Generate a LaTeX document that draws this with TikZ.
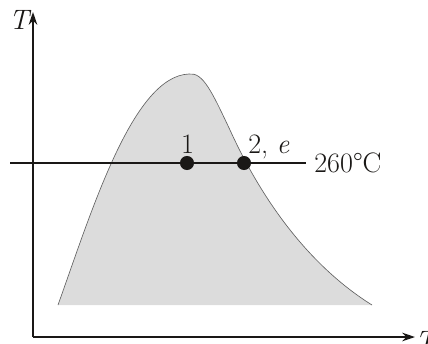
\documentclass[tikz,border=0pt]{standalone}
\usepackage{fontspec}
\usepackage{tikz}
\usetikzlibrary{
  arrows.meta,
  positioning,
}
\definecolor{tsInk}  {RGB}{ 26,  24,  22}
\definecolor{tsShade}{RGB}{220, 220, 220}
\definecolor{tsEdge} {RGB}{ 95,  95,  95}

\begin{document}
\begin{tikzpicture}[
  x=0.025cm, y=-0.025cm,
  axis/.style={-{Stealth[length=9pt, width=6pt]}, line width=1.3pt, color=tsInk},
  dome/.style={fill=tsShade},
  domeedge/.style={draw=tsEdge, line width=0.45pt},
  iso/.style={line width=0.9pt, color=tsInk},
  state/.style={circle, fill=tsInk, inner sep=0pt, minimum size=10pt},
  lbl/.style={font=\fontsize{20pt}{23pt}\selectfont, text=tsInk, inner sep=0pt},
  axlbl/.style={lbl, font=\fontsize{20pt}{23pt}\selectfont\itshape},
]
  % Page frame: fixes the margins of the figure
  \useasboundingbox (0,0) rectangle (428,343);

  % Saturation dome: filled region, outline drawn without the bottom edge
  \fill[dome] (58,305) .. controls (92,210) and (133,76) .. (189,74)
              .. controls (203,72) and (212,92) .. (230,130)
              .. controls (255,185) and (300,260) .. (372,305) -- cycle;
  \draw[domeedge] (58,305) .. controls (92,210) and (133,76) .. (189,74)
              .. controls (203,72) and (212,92) .. (230,130)
              .. controls (255,185) and (300,260) .. (372,305);

  % Axes
  \coordinate (O)    at (33,337);
  \coordinate (ytip) at (33,12);
  \coordinate (xtip) at (415,337);
  \draw[axis] (O) -- (ytip);
  \draw[axis] (O) -- (xtip);
  \node[axlbl] (ylab) at (19,20) {T};
  \node[axlbl, anchor=north west] (xlab) at (415,331) {T};

  % Isotherm and the two states on it
  \coordinate (isoL) at (10,163);
  \coordinate (isoR) at (306,163);
  \draw[iso] (isoL) -- (isoR);
  \node[state] (s1) at (187,163) {};
  \node[state] (s2) at (244,163) {};

  % Labels
  \node[lbl, anchor=base] (l1) at (187.5,153) {1};
  \node[lbl, anchor=base west] (l2) at (248,153) {2, \textit{e}};
  \node[lbl, anchor=base west] (ltemp) at (314,172) {260°C};
\end{tikzpicture}
\end{document}
